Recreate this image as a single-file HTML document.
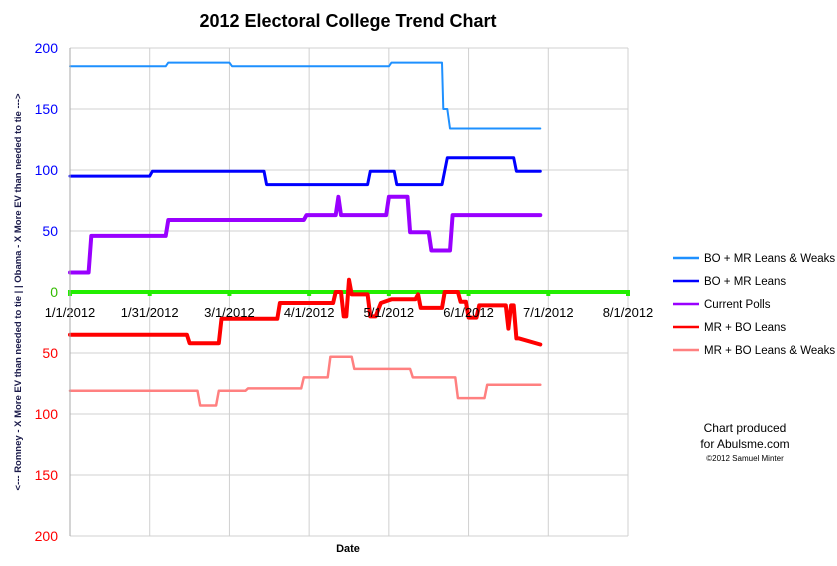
<!DOCTYPE html>
<html><head><meta charset="utf-8"><style>
body{margin:0;background:#fff;}
svg{display:block;font-family:"Liberation Sans",sans-serif;}
</style></head><body>
<svg id="chart" width="837" height="566" viewBox="0 0 837 566" xmlns="http://www.w3.org/2000/svg">
<text x="348" y="27" text-anchor="middle" font-size="18" font-weight="bold">2012 Electoral College Trend Chart</text>
<g id="grid"></g>
<g id="series"></g>
<g id="axes"></g>
<text transform="translate(21,292) rotate(-90)" text-anchor="middle" font-size="9.5" font-weight="bold" fill="#1a1a4a">&lt;--- Romney - X More EV than needed to tie | |  Obama - X More EV than needed to tie ---&gt;</text>
<text x="348" y="552" text-anchor="middle" font-size="11" font-weight="bold">Date</text>
<g id="legend"></g>
<text x="745" y="432" text-anchor="middle" font-size="12">Chart produced</text>
<text x="745" y="448" text-anchor="middle" font-size="12">for Abulsme.com</text>
<text x="745" y="461" text-anchor="middle" font-size="8">©2012 Samuel Minter</text>
</svg>
<script>
const xTickLabels=["1/1/2012","1/31/2012","3/1/2012","4/1/2012","5/1/2012","6/1/2012","7/1/2012","8/1/2012"];
const xTickDays=[0,30,60,90,120,150,180,210];
const yTickValues=[200,150,100,50,0,-50,-100,-150,-200];
const seriesNames=["BO + MR Leans & Weaks","BO + MR Leans","Current Polls","MR + BO Leans","MR + BO Leans & Weaks"];
const seriesColors=["#1e90ff","#0000ff","#9900ff","#ff0000","#ff8080"];
const seriesWidths=[2,3,4,4,2.5];
const lwDays=[0,36,37,60,61,120,121,140,140.5,142,143,177];
const lwVals=[185,185,188,188,185,185,188,188,150,150,134,134];
const lDays=[0,30,31,73,74,112,113,122,123,140,142,167,168,177];
const lVals=[95,95,99,99,88,88,99,99,88,88,110,110,99,99];
const cpDays=[0,7,8,36,37,88,89,100,101,102,119,120,127,128,135,136,143,144,177];
const cpVals=[16,16,46,46,59,59,63,63,78,63,63,78,78,49,49,34,34,63,63];
const rlDays=[0,44,45,56,57,78,79,99,100,102,103,104,105,106,107,112,113,115,117,121,130,131,132,133,140,141,146,147,149,150,153,154,157,158,164,165,166,167,168,169,177];
const rlVals=[-35,-35,-42,-42,-22,-22,-9,-9,0,0,-20,-20,10,-2,-2,-2,-20,-20,-9,-6,-6,-2,-13,-13,-13,0,0,-8,-8,-21,-21,-11,-11,-11,-11,-30,-11,-11,-38,-38,-43];
const rwDays=[0,48,49,55,56,66,67,87,88,97,98,106,107,128,129,145,146,156,157,177];
const rwVals=[-81,-81,-93,-93,-81,-81,-79,-79,-70,-70,-53,-53,-63,-63,-70,-70,-87,-87,-76,-76];
const zeroDays=[0,210];
const zeroVals=[0,0];

const NS="http://www.w3.org/2000/svg";
const X0=70,X1=628,Y0=48,Y1=536;
function xs(d){return X0+(d/210)*(X1-X0);}
function ys(v){return Y0+(200-v)/400*(Y1-Y0);}
function mk(tag,attrs,parent){const e=document.createElementNS(NS,tag);for(const k in attrs)e.setAttribute(k,attrs[k]);parent.appendChild(e);return e;}
const grid=document.getElementById('grid'),axes=document.getElementById('axes'),ser=document.getElementById('series'),leg=document.getElementById('legend');
yTickValues.forEach(v=>{
 const l=mk('line',{x1:X0,x2:X1,y1:ys(v),y2:ys(v),stroke:'#d0d0d0','stroke-width':1},grid);
 
 
 const t=mk('text',{x:58,y:ys(v)+5,'text-anchor':'end','font-size':14,fill:v>0?'#0000ff':(v===0?'#33bb00':'#ff0000')},axes);
 t.textContent=Math.abs(v);
 
 
});
xTickDays.forEach((d,i)=>{
 const l=mk('line',{x1:xs(d),x2:xs(d),y1:Y0,y2:Y1,stroke:'#d0d0d0','stroke-width':1},grid);
 
 
 const t=mk('text',{x:xs(d),y:317,'text-anchor':'middle','font-size':13,fill:'#000'},axes);
 t.textContent=xTickLabels[i];
 
 
});
const ax=mk('line',{x1:X0,x2:X0,y1:Y0,y2:Y1,stroke:'#aaa','stroke-width':1},axes);


function path(days,vals){return days.map((d,i)=>(i?'L':'M')+xs(d).toFixed(1)+','+ys(vals[i]).toFixed(1)).join(' ');}
const z=mk('path',{d:path(zeroDays,zeroVals),stroke:'#22ee00','stroke-width':4,fill:'none'},ser);


xTickDays.forEach(d=>{const m=mk('rect',{x:xs(d)-2,y:ys(0)-2,width:4,height:6,fill:'#22ee00'},ser);
 
 });
const allD=[lwDays,lDays,cpDays,rlDays,rwDays],allV=[lwVals,lVals,cpVals,rlVals,rwVals];
const keys=['bo-mr-leans-weaks-line','bo-mr-leans-line','current-polls-line','mr-bo-leans-line','mr-bo-leans-weaks-line'];
allD.forEach((days,i)=>{
 const p=mk('path',{d:path(days,allV[i]),stroke:seriesColors[i],'stroke-width':seriesWidths[i],fill:'none','stroke-linejoin':'round','stroke-linecap':'round'},ser);
 
 
 const y=258+i*23;
 const s=mk('line',{x1:673,x2:699,y1:y,y2:y,stroke:seriesColors[i],'stroke-width':2.5},leg);
 
 
 const t=mk('text',{x:704,y:y+4,'font-size':11.5,fill:'#000'},leg);
 t.textContent=seriesNames[i];
 
 
});
</script>
</body></html>
